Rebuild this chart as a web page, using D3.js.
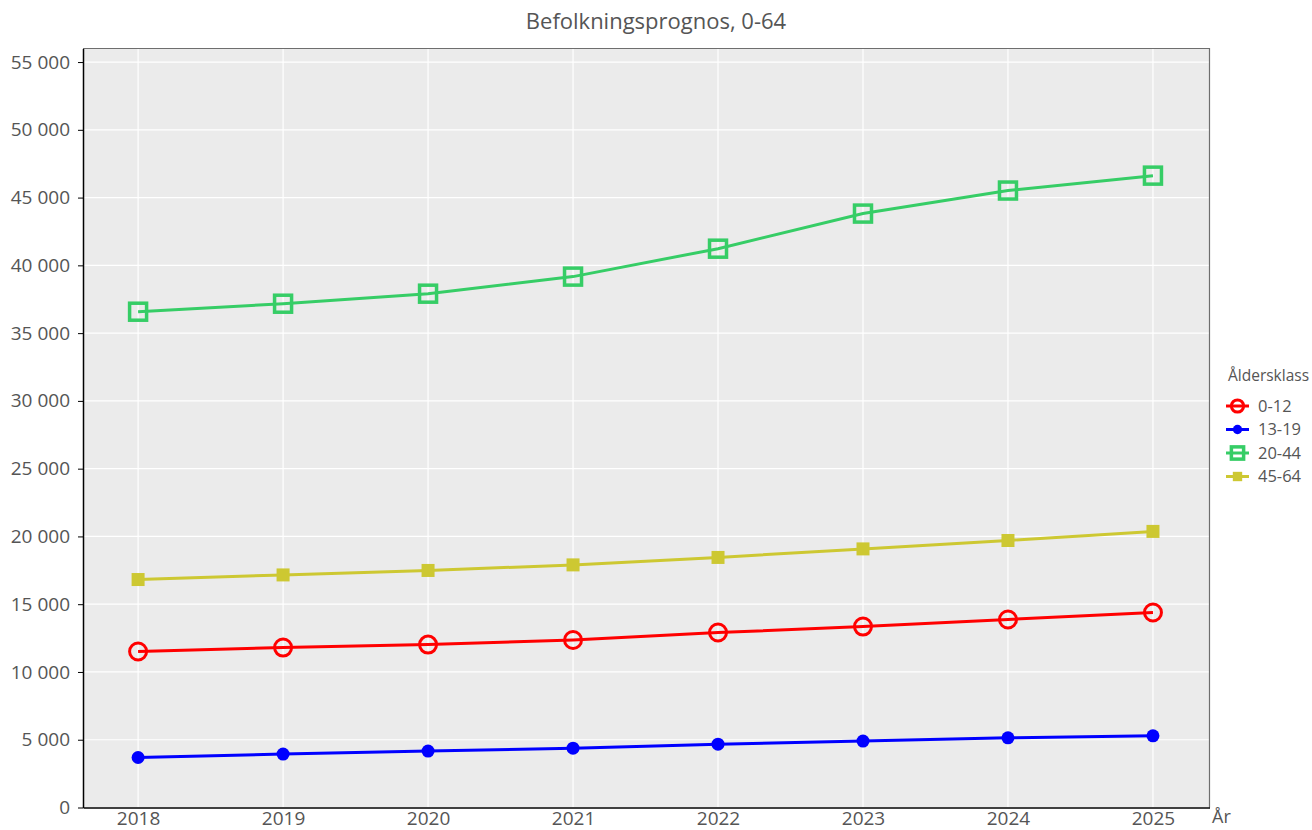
<!DOCTYPE html>
<html>
<head>
<meta charset="utf-8">
<title>Befolkningsprognos, 0-64</title>
<script src="https://cdn.jsdelivr.net/npm/d3@7"></script>
<style>
  body { margin: 0; background: #fff; }
  svg text { font-family: "Open Sans", "Noto Sans", sans-serif; fill: #555; }
</style>
</head>
<body>
<svg id="chart" width="1312" height="830"></svg>
<script>
var years = [2018, 2019, 2020, 2021, 2022, 2023, 2024, 2025];
var age0_12 = [11510, 11800, 12020, 12360, 12910, 13350, 13870, 14390];
var age13_19 = [3690, 3940, 4160, 4380, 4670, 4900, 5140, 5290];
var age20_44 = [36580, 37170, 37910, 39170, 41230, 43820, 45520, 46620];
var age45_64 = [16820, 17160, 17490, 17900, 18450, 19080, 19700, 20370];
var yTicks = [0, 5000, 10000, 15000, 20000, 25000, 30000, 35000, 40000, 45000, 50000, 55000];

var series = [
  { name: "0-12", values: age0_12, color: "#ff0000", shape: "ring" },
  { name: "13-19", values: age13_19, color: "#0000ff", shape: "dot" },
  { name: "20-44", values: age20_44, color: "#36cd66", shape: "box" },
  { name: "45-64", values: age45_64, color: "#cdc832", shape: "block" }
];

var margin = { left: 83, top: 48.5, right: 1209.5, bottom: 807.5 };
var svg = d3.select("#chart");

var x = d3.scaleLinear().domain([2017.62, 2025.39]).range([margin.left, margin.right]);
var y = d3.scaleLinear().domain([0, 56000]).range([margin.bottom, margin.top]);

svg.append("text")
  .attr("x", 656).attr("y", 29)
  .attr("text-anchor", "middle")
  .style("font-size", "22px")
  .text("Befolkningsprognos, 0-64");

svg.append("rect")
  .attr("x", margin.left).attr("y", margin.top)
  .attr("width", margin.right - margin.left)
  .attr("height", margin.bottom - margin.top)
  .attr("fill", "#ebebeb");

// grid
svg.append("g").selectAll("line").data(yTicks).enter().append("line")
  .attr("x1", margin.left).attr("x2", margin.right)
  .attr("y1", function(d) { return y(d); }).attr("y2", function(d) { return y(d); })
  .attr("stroke", "#fff").attr("stroke-width", 1.2);
svg.append("g").selectAll("line").data(years).enter().append("line")
  .attr("y1", margin.top).attr("y2", margin.bottom)
  .attr("x1", function(d) { return x(d); }).attr("x2", function(d) { return x(d); })
  .attr("stroke", "#fff").attr("stroke-width", 1.2);

// frame top/right
svg.append("path")
  .attr("d", "M" + margin.left + "," + margin.top + "H" + margin.right + "V" + margin.bottom)
  .attr("fill", "none").attr("stroke", "#6e6e6e").attr("stroke-width", 1.2);

var fmt = function(d) { return d3.format(",")(d).replace(/,/g, " "); };

var yAxis = svg.append("g")
  .attr("transform", "translate(" + margin.left + ",0)")
  .call(d3.axisLeft(y).tickValues(yTicks).tickFormat(fmt).tickSizeInner(5).tickSizeOuter(0).tickPadding(8));
yAxis.select(".domain").attr("stroke", "#000").attr("stroke-width", 1.5);
yAxis.selectAll(".tick line").attr("stroke", "#000");
yAxis.selectAll("text").style("font-size", "19px").attr("fill", "#555");

var xAxis = svg.append("g")
  .attr("transform", "translate(0," + margin.bottom + ")")
  .call(d3.axisBottom(x).tickValues(years).tickFormat(d3.format("d")).tickSize(0).tickPadding(4));
xAxis.select(".domain").attr("stroke", "#000").attr("stroke-width", 1.5);
xAxis.selectAll("text").style("font-size", "19px").attr("fill", "#555");

svg.append("text")
  .attr("x", 1212).attr("y", 823)
  .style("font-size", "18px")
  .text("År");

var line = d3.line()
  .x(function(d, i) { return x(years[i]); })
  .y(function(d) { return y(d); });

function marker(g, shape, color, big) {
  var s = big ? 1 : 0.72;
  if (shape === "ring") {
    g.append("circle").attr("r", 8.5 * s).attr("fill", "none")
      .attr("stroke", color).attr("stroke-width", 3);
  } else if (shape === "dot") {
    g.append("circle").attr("r", 6.5 * s).attr("fill", color);
  } else if (shape === "box") {
    var a = 17 * s;
    g.append("rect").attr("x", -a / 2).attr("y", -a / 2).attr("width", a).attr("height", a)
      .attr("fill", "none").attr("stroke", color).attr("stroke-width", 3.5);
  } else {
    var b = 13 * s;
    g.append("rect").attr("x", -b / 2).attr("y", -b / 2).attr("width", b).attr("height", b)
      .attr("fill", color);
  }
}

series.forEach(function(s) {
  svg.append("path")
    .datum(s.values)
    .attr("d", line)
    .attr("fill", "none")
    .attr("stroke", s.color)
    .attr("stroke-width", 3);
  s.values.forEach(function(v, i) {
    var g = svg.append("g").attr("transform", "translate(" + x(years[i]) + "," + y(v) + ")");
    marker(g, s.shape, s.color, true);
  });
});

// legend
svg.append("text")
  .attr("x", 1228).attr("y", 381)
  .style("font-size", "15.5px")
  .text("Åldersklass");

series.forEach(function(s, i) {
  var ly = 406 + i * 23.5;
  svg.append("line")
    .attr("x1", 1226).attr("x2", 1249)
    .attr("y1", ly).attr("y2", ly)
    .attr("stroke", s.color).attr("stroke-width", 3);
  var g = svg.append("g").attr("transform", "translate(1237.5," + ly + ")");
  marker(g, s.shape, s.color, false);
  svg.append("text")
    .attr("x", 1258).attr("y", ly + 5.5)
    .style("font-size", "16.5px")
    .text(s.name);
});
</script>
</body>
</html>
